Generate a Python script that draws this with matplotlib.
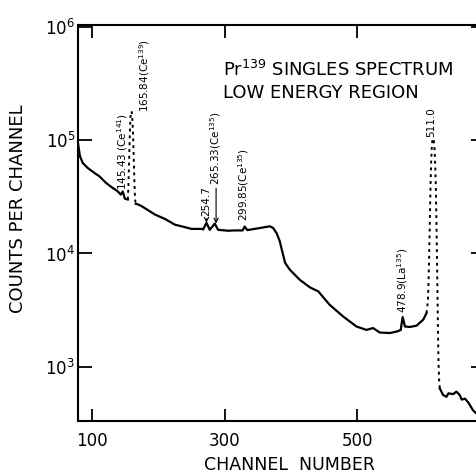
import matplotlib.pyplot as plt

# Pr139 singles spectrum, low energy region

# left part of the spectrum, up to the foot of the 165.84 line
low_channel = [79, 80, 82, 86, 93.5, 103.5, 111, 121, 131, 138.5, 143.5, 146.5, 149.5, 154]
low_counts = [95000, 86000, 72600, 63400, 57200, 51700, 48300, 42200, 38100, 35600,
               33200, 35300, 30600, 30000]

# 165.84 keV line (Ce139)
peak165_channel = [154, 155, 156, 157, 158, 159, 160, 161, 162, 163, 164, 165, 166]
peak165_counts = [30000, 40000, 65000, 110000, 160000, 181000, 178000, 150000,
                  110000, 70000, 42000, 30000, 27500]

# plateau, compton edge and valley up to the annihilation line
mid_channel = [166, 170, 175, 195, 210, 225, 240, 250, 265, 267.5, 272.5, 277.5, 285,
               290, 305, 315, 323, 327, 330, 334, 353, 368, 373, 378, 383, 386, 391,
               398, 408, 413, 428, 441, 458, 478.5, 498.5, 513.5, 523.5, 533.5, 549,
               559, 565, 568, 571.5, 579, 589, 599, 604]
mid_counts = [27500, 27100, 26200, 22100, 20200, 18000, 17100, 16500, 16500, 16300,
              18700, 16200, 18400, 16200, 15900, 16000, 16000, 16000, 17300, 16100,
              16800, 17400, 16800, 15200, 12800, 10800, 8250, 7200, 6270, 5860, 5030,
              4620, 3520, 2770, 2260, 2110, 2190, 2000, 1980, 2040, 2100, 2740, 2260,
              2240, 2300, 2600, 2970]

# 511.0 keV annihilation line
peak511_channel = [604, 606, 607, 608, 609, 610, 611, 612, 613, 614, 615, 616, 617,
                   618, 619, 620, 621, 622, 623, 624]
peak511_counts = [2970, 3800, 5500, 10000, 20000, 40000, 65000, 90000, 102000, 104000,
                  100000, 85000, 62000, 38000, 18000, 7000, 2500, 1100, 750, 640]

# high channel tail
tail_channel = [624, 629, 634, 637, 644, 649, 654, 657, 662, 667, 669, 674, 679]
tail_counts = [640, 560, 540, 580, 570, 600, 560, 510, 520, 480, 460, 410, 385]

fig = plt.figure(figsize=(4.77, 4.75), dpi=100)
ax = fig.add_axes([0.1635, 0.1137, 0.8365, 0.8337])

for ch, cnt in [(low_channel, low_counts), (mid_channel, mid_counts), (tail_channel, tail_counts)]:
    ax.plot(ch, cnt, color="black", lw=1.6, solid_joinstyle="round")
for ch, cnt in [(peak165_channel, peak165_counts), (peak511_channel, peak511_counts)]:
    ax.plot(ch, cnt, color="black", lw=1.4, ls=(0, (1.5, 2)))

ax.set_yscale("log")
ax.set_xlim(79, 680)
ax.set_ylim(330, 1.05e6)
ax.set_xticks([100, 300, 500])
ax.set_yticks([1e3, 1e4, 1e5, 1e6])
ax.minorticks_off()

ax.spines["right"].set_visible(False)
for s in ["left", "top", "bottom"]:
    ax.spines[s].set_linewidth(1.5)

ax.tick_params(axis="x", direction="in", top=True, length=9, width=1.3, labelsize=12, pad=8)
ax.tick_params(axis="y", direction="in", right=True, length=10, width=1.3, labelsize=12, pad=2)
for t in ax.yaxis.get_major_ticks():
    t.tick2line.set_markersize(4)

ax.set_xlabel("CHANNEL  NUMBER", fontsize=12.5)
ax.xaxis.label.set_va("baseline")
ax.xaxis.set_label_coords(0.531, -0.125)
ax.set_ylabel("COUNTS PER CHANNEL", fontsize=13)
ax.yaxis.set_label_coords(-0.128, 0.535)

ax.text(0.363, 0.886, "Pr$^{139}$ SINGLES SPECTRUM", transform=ax.transAxes,
        fontsize=13, ha="left", va="center")
ax.text(0.363, 0.828, "LOW ENERGY REGION", transform=ax.transAxes,
        fontsize=13, ha="left", va="center")

# line labels
lab = dict(rotation=90, fontsize=7.5, ha="center", va="bottom")
ax.text(146.5, 36500, "145.43 (Ce$^{141}$)", **lab)
ax.text(180, 177000, "165.84(Ce$^{139}$)", **lab)
ax.annotate("254.7", xy=(272.5, 18700), xytext=(272.5, 21500),
            arrowprops=dict(arrowstyle="->", lw=0.8, shrinkA=0, shrinkB=0), **lab)
ax.annotate("265.33(Ce$^{135}$)", xy=(287, 18400), xytext=(287, 40000),
            arrowprops=dict(arrowstyle="->", lw=0.8, shrinkA=0, shrinkB=0), **lab)
ax.text(328, 19500, "299.85(Ce$^{135}$)", **lab)
ax.text(568, 3000, "478.9(La$^{135}$)", **lab)
ax.text(611, 108000, "511.0", **lab)

fig.savefig("out.png", dpi=100)
